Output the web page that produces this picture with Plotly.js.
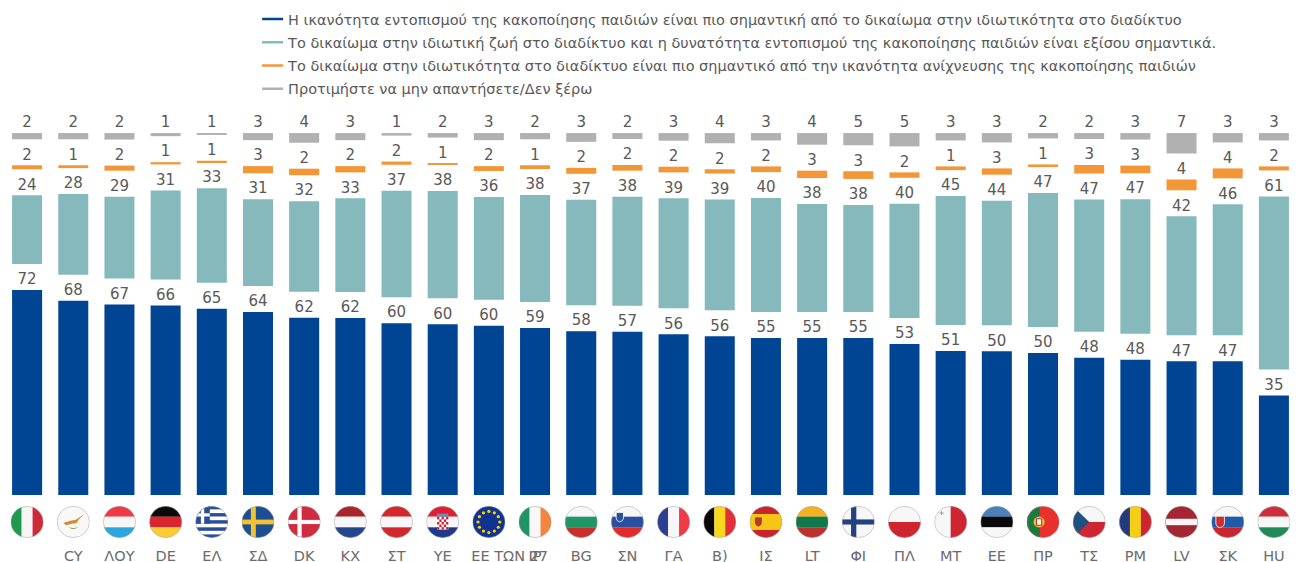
<!DOCTYPE html>
<html><head><meta charset="utf-8">
<script src="https://cdn.plot.ly/plotly-3.0.1.min.js"></script>
<style>html,body{margin:0;padding:0;background:#fff}#c{width:1300px;height:562px}</style>
</head><body><div id="c"></div>
<script>
const tickLabels = ["","CY","ΛΟΥ","DE","ΕΛ","ΣΔ","DK","ΚΧ","ΣΤ","ΥΕ","ΕΕ ΤΩΝ 27","ΙΡ","BG","ΣΝ","ΓΑ","Β)","ΙΣ","LT","ΦΙ","ΠΛ","ΜΤ","ΕΕ","ΠΡ","ΤΣ","ΡΜ","LV","ΣΚ","HU"];
const flagCodes = ["IT","CY","LU","DE","EL","SE","DK","NL","AT","HR","EU","IE","BG","SI","FR","BE","ES","LT","FI","PL","MT","EE","PT","CZ","RO","LV","SK","HU"];

const detect = [72.2,68.4,67.1,66.7,65.6,64.4,62.4,62.3,60.5,60.1,59.6,58.8,57.7,57.5,56.6,55.9,55.3,55.3,55.3,53.2,50.7,50.6,50.0,48.3,47.6,47.1,47.1,35.0];
const equal  = [24.2,28.4,28.8,31.4,33.3,30.6,31.9,33.0,37.5,37.8,36.2,37.7,37.1,38.4,38.7,39.0,40.1,38.0,37.7,40.2,45.4,43.9,47.2,46.6,47.4,41.9,46.1,61.0];
const privacy= [1.4,1.0,1.8,0.8,0.5,2.5,2.3,2.2,1.1,0.5,1.7,1.3,2.1,2.0,2.0,1.5,2.0,2.6,2.7,1.9,1.3,2.2,0.9,3.0,2.7,3.8,3.5,1.4];
const noAns  = [2.2,2.2,2.3,1.1,0.6,2.5,3.4,2.5,0.9,1.6,2.5,2.2,3.1,2.1,2.7,3.6,2.6,4.1,4.3,4.7,2.6,3.3,1.9,2.1,2.3,7.2,3.3,2.6];

const detectLabels = [72,68,67,66,65,64,62,62,60,60,60,59,58,57,56,56,55,55,55,53,51,50,50,48,48,47,47,35];
const equalLabels  = [24,28,29,31,33,31,32,33,37,38,36,38,37,38,39,39,40,38,38,40,45,44,47,47,47,42,46,61];
const privacyLabels= [2,1,2,1,1,3,2,2,2,1,2,1,2,2,2,2,2,3,3,2,1,3,1,3,3,4,4,2];
const noAnsLabels  = [2,2,2,1,1,3,4,3,1,2,3,2,3,2,3,4,3,4,5,5,3,3,2,2,3,7,3,3];

const seriesNames = [
 "Η ικανότητα εντοπισμού της κακοποίησης παιδιών είναι πιο σημαντική από το δικαίωμα στην ιδιωτικότητα στο διαδίκτυο",
 "Το δικαίωμα στην ιδιωτική ζωή στο διαδίκτυο και η δυνατότητα εντοπισμού της κακοποίησης παιδιών είναι εξίσου σημαντικά.",
 "Το δικαίωμα στην ιδιωτικότητα στο διαδίκτυο είναι πιο σημαντικό από την ικανότητα ανίχνευσης της κακοποίησης παιδιών",
 "Προτιμήστε να μην απαντήσετε/Δεν ξέρω"
];
const seriesColors = ["#004494","#85B9BB","#F39638","#B1B1B1"];
const GAP = 9.15, LABEL_LIFT = 0.7, FONT = "DejaVu Sans, Verdana, sans-serif", TXT = "#595959";

/* flags */
const hs=(...c)=>c.map((k,i)=>`<rect x="0" y="${i*100/c.length}" width="100" height="${100/c.length+.5}" fill="${k}"/>`).join('');
const vs=(...c)=>c.map((k,i)=>`<rect x="${i*100/c.length}" y="0" width="${100/c.length+.5}" height="100" fill="${k}"/>`).join('');
const cross=(bg,fg,cx,t)=>`<rect width="100" height="100" fill="${bg}"/><rect x="${cx-t/2}" width="${t}" height="100" fill="${fg}"/><rect y="${50-t/2}" width="100" height="${t}" fill="${fg}"/>`;
const stars=()=>{let s='';for(let i=0;i<12;i++){const a=i*Math.PI/6;s+=`<circle cx="${50+33*Math.cos(a)}" cy="${50+33*Math.sin(a)}" r="5" fill="#FFCC00"/>`;}return s;};
const greek=()=>{let s='';for(let i=0;i<9;i++)s+=`<rect y="${i*100/9}" width="100" height="${100/9+.3}" fill="${i%2?'#fff':'#2A4D9B'}"/>`;return s+`<rect width="44" height="55.5" fill="#2A4D9B"/><rect x="17" width="10" height="55.5" fill="#fff"/><rect y="23" width="44" height="10" fill="#fff"/>`;};
const checker=()=>{let s='<rect x="33" y="34" width="34" height="40" fill="#fff"/>';for(let r=0;r<5;r++)for(let c=0;c<5;c++)if((r+c)%2==0)s+=`<rect x="${33+c*6.8}" y="${34+r*8}" width="6.8" height="8" fill="#D0202B"/>`;return s+'<rect x="33" y="24" width="34" height="10" fill="#6E8CB5"/>';};
const shield=(x,y,w,h,c)=>`<path d="M${x} ${y}h${w}v${h*.6}q0 ${h*.3} ${-w/2} ${h*.4}q${-w/2} ${-h*.1} ${-w/2} ${-h*.4}z" fill="${c}" stroke="#fff" stroke-width="2.5"/>`;
const flagArt = {
 IT:vs('#1E9A4F','#F6F6F6','#CF2A36'),
 CY:`<rect width="100" height="100" fill="#F8F8F8"/><path d="M20 53 L38 47 L58 43 L82 26 L66 43 L60 53 L42 56 L28 60Z" fill="#D98B2B"/><path d="M34 66 Q50 78 66 66 Q50 72 34 66Z" fill="#8A9A5B"/>`,
 LU:hs('#EE3B43','#F7F7F7','#2AA6DC'),
 DE:hs('#0A0A0A','#D9262E','#FDCB34'),
 EL:greek(),
 SE:cross('#1B4F8F','#F2C230',36,15),
 DK:cross('#D02C3F','#FAFAFA',36,13),
 NL:hs('#A8232C','#F7F7F7','#25478C'),
 AT:hs('#D2282C','#F7F7F7','#D2282C'),
 HR:hs('#E02030','#F7F7F7','#1E3A8C')+checker(),
 EU:`<rect width="100" height="100" fill="#0F3391"/>`+stars(),
 IE:vs('#1F9465','#F7F7F7','#F4853F'),
 BG:hs('#F7F7F7','#1F9768','#C8302B'),
 SI:hs('#F7F7F7','#2A4F9E','#E22C2C')+shield(16,20,22,30,'#2A4F9E'),
 FR:vs('#2B3F92','#F7F7F7','#EE3B45'),
 BE:vs('#0A0A0A','#F8D81F','#E0303A'),
 ES:hs('#C8242B','#F5C518','#F5C518','#C8242B')+shield(18,37,18,26,'#B23A2A').replace('stroke="#fff"','stroke="#C8242B"'),
 LT:hs('#F4B223','#0F7A4E','#BC332E'),
 FI:cross('#F7F7F7','#24417F',36,16),
 PL:hs('#F7F7F7','#CE2530'),
 MT:vs('#F7F7F7','#CE2530')+`<rect x="21" y="16" width="3" height="12" fill="#999"/><rect x="16.5" y="20.5" width="12" height="3" fill="#999"/>`,
 EE:hs('#4A80BC','#0A0A0A','#F7F7F7'),
 PT:`<rect width="100" height="100" fill="#E8312C"/><rect width="40" height="100" fill="#1B7A3D"/><circle cx="38" cy="50" r="17" fill="#E8C030"/><rect x="30" y="40" width="16" height="20" fill="#fff" stroke="#C8242B" stroke-width="3"/>`,
 CZ:hs('#F7F7F7','#CE2530')+`<path d="M0 0L50 50L0 100Z" fill="#1F5180"/>`,
 RO:vs('#25397D','#F5CF16','#CE2530'),
 LV:`<rect width="100" height="100" fill="#A32632"/><rect y="40" width="100" height="20" fill="#F7F7F7"/>`,
 SK:hs('#F7F7F7','#1F5BA8','#C8252F')+shield(14,32,26,36,'#D02C30'),
 HU:hs('#CE2E3C','#F7F7F7','#1F8A58')
};
const flagUri = c => 'data:image/svg+xml;charset=utf-8,'+encodeURIComponent(
 `<svg xmlns="http://www.w3.org/2000/svg" width="132" height="128" viewBox="0 0 100 100" preserveAspectRatio="none"><defs><clipPath id="k"><circle cx="50" cy="50" r="49"/></clipPath></defs><g clip-path="url(#k)">${flagArt[c]}</g><circle cx="50" cy="50" r="49" fill="none" stroke="#A0A0A0" stroke-width="1.5"/></svg>`);

const xs = tickLabels.map((_,i)=>i);
const euIdx = tickLabels.indexOf("ΕΕ ΤΩΝ 27");
const tickPos = xs.map(i=> i===euIdx ? i+0.45 : i);

const vals=[detect,equal,privacy,noAns], labs=[detectLabels,equalLabels,privacyLabels,noAnsLabels];
const traces=[]; let bases=xs.map(()=>0);
vals.forEach((v,s)=>{
  const base=bases.slice();
  traces.push({type:'bar',x:xs,y:v,base:base,marker:{color:seriesColors[s],line:{width:0}},showlegend:false,name:seriesNames[s],
    customdata:labs[s],hovertemplate:'%{customdata}<extra></extra>'});
  const tops=base.map((b,i)=>b+v[i]);
  traces.push({type:'scatter',mode:'text',x:xs,y:tops.map(t=>t+LABEL_LIFT),text:labs[s].map(String),textposition:'top center',
    textfont:{family:FONT,size:15,color:TXT},showlegend:false,hoverinfo:'skip'});
  bases=tops.map(t=>t+GAP);
});
seriesNames.forEach((n,s)=>traces.push({type:'scatter',mode:'lines',x:[null],y:[null],name:n,legendgroup:'g'+s,
  line:{color:seriesColors[s],width:2.5,dash:'0px,9px,21px,100px'},hoverinfo:'skip'}));

const layout={
  width:1300,height:562,paper_bgcolor:'#fff',plot_bgcolor:'#fff',
  margin:{l:3.9,r:2.5,t:0,b:67},
  barmode:'overlay',bargap:0.35,
  font:{family:FONT,color:TXT},
  xaxis:{range:[-0.5,27.5],tickmode:'array',tickvals:tickPos,ticktext:tickLabels,showgrid:false,zeroline:false,showline:false,
    ticks:'outside',ticklen:48,tickcolor:'rgba(0,0,0,0)',tickfont:{family:FONT,size:14.5,color:'#6b6b6b'},tickangle:0,automargin:false},
  yaxis:{range:[0,174.3],visible:false,fixedrange:true},
  legend:{xref:'paper',yref:'paper',x:0.1888,y:0.9940,xanchor:'left',yanchor:'top',traceorder:'grouped',tracegroupgap:1.5,
    bgcolor:'rgba(0,0,0,0)',font:{family:FONT,size:14.47,color:TXT}},
  images:flagCodes.map((c,i)=>({source:flagUri(c),xref:'x',yref:'paper',x:i,y:-0.0222,sizex:0.714,sizey:0.0646,
    xanchor:'center',yanchor:'top',sizing:'stretch',layer:'above'}))
};
Plotly.newPlot('c',traces,layout,{displayModeBar:false,responsive:false});
</script></body></html>
